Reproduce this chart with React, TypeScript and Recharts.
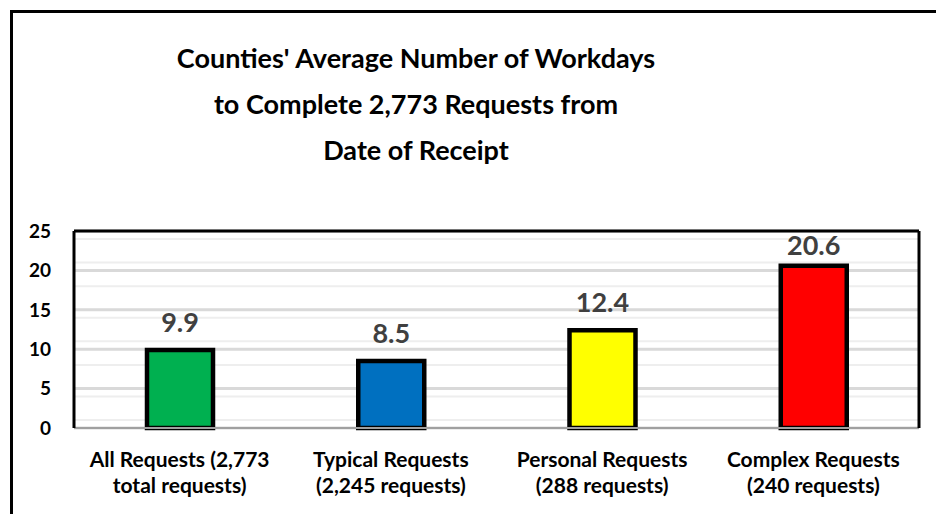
import React from "react";
import { BarChart, Bar, XAxis, YAxis, CartesianGrid, LabelList, Cell } from "recharts";

const categories = [
  "All Requests (2,773\ntotal requests)",
  "Typical Requests\n(2,245 requests)",
  "Personal Requests\n(288 requests)",
  "Complex Requests\n(240 requests)",
];
const avgWorkdays = [9.9, 8.5, 12.4, 20.6];
const barColors = ["#00B050", "#0070C0", "#FFFF00", "#FF0000"];
const majorTicks = [0, 5, 10, 15, 20, 25];
const minorTicks = [1, 2, 3, 4, 6, 7, 8, 9, 11, 12, 13, 14, 16, 17, 18, 19, 21, 22, 23, 24];
const titleLines = [
  "Counties' Average Number of Workdays",
  "to Complete 2,773 Requests from",
  "Date of Receipt",
];

const data = categories.map((c, i) => ({ name: c, value: avgWorkdays[i] }));

const FONT = "Lato, 'Noto Sans', sans-serif";
const PLOT_TOP = 231;

const XTick = (props: any) => {
  const { x, y, payload } = props;
  const lines = String(payload.value).split("\n");
  return (
    <text x={x} y={y} textAnchor="middle" fill="#000" fontFamily={FONT} fontWeight={700} fontSize={21}>
      {lines.map((l, i) => (
        <tspan key={i} x={x} dy={i === 0 ? 39 : 26}>
          {l}
        </tspan>
      ))}
    </text>
  );
};

const ValueLabel = (props: any) => {
  const { x, y, width, value } = props;
  const baseline = Math.max(Number(y) - 18, PLOT_TOP + 24);
  return (
    <text
      x={Number(x) + Number(width) / 2}
      y={baseline}
      textAnchor="middle"
      fill="#404040"
      fontFamily={FONT}
      fontWeight={700}
      fontSize={27}
    >
      {Number(value).toFixed(1)}
    </text>
  );
};

export default function App() {
  return (
    <div
      style={{
        position: "absolute",
        left: 0,
        top: 0,
        width: 936,
        height: 514,
        overflow: "hidden",
        background: "#fff",
        fontFamily: FONT,
      }}
    >
      <div
        style={{
          position: "absolute",
          left: 10,
          top: 10,
          width: 1000,
          height: 600,
          border: "3px solid #000",
          boxSizing: "border-box",
        }}
      />
      <div
        style={{
          position: "absolute",
          left: 116,
          width: 600,
          top: 35,
          textAlign: "center",
          fontWeight: 700,
          fontSize: 27,
          lineHeight: "46px",
          color: "#000",
        }}
      >
        {titleLines.map((t, i) => (
          <div key={i}>{t}</div>
        ))}
      </div>
      <div style={{ position: "absolute", left: 0, top: 0 }}>
        <BarChart width={936} height={514} data={data} margin={{ top: PLOT_TOP - 1, right: 16, bottom: 0, left: 0 }}>
          <CartesianGrid vertical={false} horizontalValues={minorTicks} stroke="#EEEEEE" strokeWidth={2} />
          <CartesianGrid vertical={false} horizontalValues={majorTicks} stroke="#D9D9D9" strokeWidth={3} />
          <XAxis
            dataKey="name"
            height={86}
            tick={<XTick />}
            tickLine={false}
            tickSize={0}
            tickMargin={0}
            interval={0}
            axisLine={{ stroke: "#A0A0A0", strokeWidth: 2 }}
          />
          <XAxis
            xAxisId="top"
            dataKey="name"
            orientation="top"
            height={1}
            tick={false}
            tickLine={false}
            axisLine={{ stroke: "#000", strokeWidth: 3 }}
          />
          <YAxis
            domain={[0, 25]}
            ticks={majorTicks}
            width={74}
            tickLine={false}
            tickSize={0}
            tickMargin={23}
            axisLine={{ stroke: "#000", strokeWidth: 3 }}
            tick={{ fill: "#000", fontFamily: FONT, fontWeight: 700, fontSize: 19 }}
          />
          <YAxis
            yAxisId="right"
            orientation="right"
            domain={[0, 25]}
            width={1}
            tick={false}
            tickLine={false}
            axisLine={{ stroke: "#000", strokeWidth: 3 }}
          />
          <Bar dataKey="value" barSize={66} stroke="#000" strokeWidth={4.5} isAnimationActive={false}>
            {data.map((d, i) => (
              <Cell key={i} fill={barColors[i]} />
            ))}
            <LabelList dataKey="value" content={<ValueLabel />} />
          </Bar>
        </BarChart>
      </div>
    </div>
  );
}
